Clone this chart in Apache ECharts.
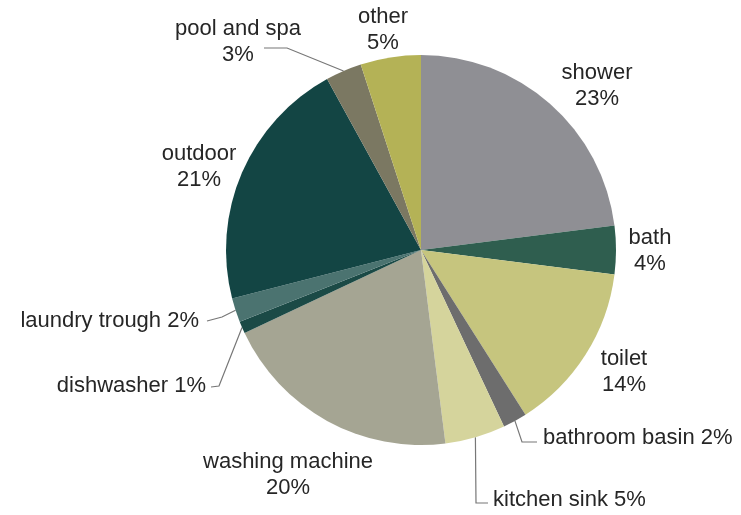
<!DOCTYPE html>
<html>
<head>
<meta charset="utf-8">
<script src="https://cdn.jsdelivr.net/npm/echarts@6/dist/echarts.min.js"></script>
<style>html,body{margin:0;padding:0;background:#fff}#c{width:741px;height:515px}</style>
</head>
<body>
<div id="c"></div>
<script>
// Data
var categories = ['shower','bath','toilet','bathroom basin','kitchen sink','washing machine','dishwasher','laundry trough','outdoor','pool and spa','other'];
var values = [23, 4, 14, 2, 5, 20, 1, 2, 21, 3, 5];
var colors = ['#8f8f94','#2f5e4f','#c6c57e','#6d6d6d','#d5d49c','#a5a593','#1b4a46','#4b7370','#134544','#7b7862','#b4b256'];

// Label placement (text anchors and leader-line bends; not marks)
var labelPlace = {
  'shower':          {x: 597, y: 86,  align: 'center', two: true},
  'bath':            {x: 650, y: 251, align: 'center', two: true},
  'toilet':          {x: 624, y: 372, align: 'center', two: true},
  'bathroom basin':  {x: 543, y: 438, align: 'left', two: false, line: [[522,442],[537,442]]},
  'kitchen sink':    {x: 493, y: 500, align: 'left', two: false, line: [[476,503],[488,503]]},
  'washing machine': {x: 288, y: 475, align: 'center', two: true},
  'dishwasher':      {x: 206, y: 386, align: 'right', two: false, line: [[219,386],[211,387]]},
  'laundry trough':  {x: 199, y: 321, align: 'right', two: false, line: [[222,317],[207,321]]},
  'outdoor':         {x: 199, y: 167, align: 'center', two: true},
  'pool and spa':    {x: 238, y: 42,  align: 'center', two: true, line: [[287,48],[264,48]]},
  'other':           {x: 383, y: 30,  align: 'center', two: true}
};

var data = categories.map(function (n, i) {
  var lp = labelPlace[n];
  return {
    name: n,
    value: values[i],
    itemStyle: {color: colors[i]},
    labelLine: {show: !!lp.line}
  };
});

var chart = echarts.init(document.getElementById('c'), null, {renderer: 'canvas'});
chart.setOption({
  backgroundColor: '#ffffff',
  animation: false,
  series: [{
    type: 'pie',
    center: [421, 250],
    radius: 195,
    startAngle: 90,
    clockwise: true,
    avoidLabelOverlap: false,
    data: data,
    itemStyle: {borderWidth: 0},
    label: {
      show: true,
      position: 'outside',
      fontFamily: 'Liberation Sans, Arial, sans-serif',
      fontSize: 22,
      lineHeight: 26,
      color: '#262626',
      formatter: function (p) {
        var lp = labelPlace[p.name];
        return lp.two ? (p.name + '\n' + p.value + '%') : (p.name + ' ' + p.value + '%');
      }
    },
    labelLine: {
      show: true,
      lineStyle: {color: '#777777', width: 1.2}
    },
    emphasis: {disabled: true},
    labelLayout: function (params) {
      var name = categories[params.dataIndex];
      var lp = labelPlace[name];
      var out = {x: lp.x, y: lp.y, align: lp.align, verticalAlign: 'middle'};
      if (lp.line && params.labelLinePoints) {
        var start = params.labelLinePoints[0];
        out.labelLinePoints = [start, lp.line[0], lp.line[1]];
      }
      return out;
    }
  }]
});
</script>
</body>
</html>
